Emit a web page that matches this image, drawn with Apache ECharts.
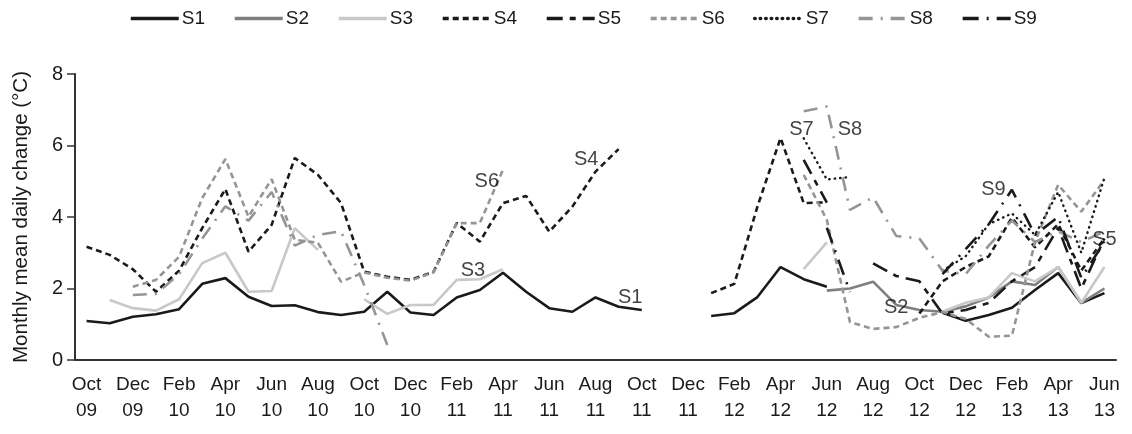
<!DOCTYPE html>
<html><head><meta charset="utf-8">
<script src="https://cdn.jsdelivr.net/npm/echarts@6/dist/echarts.min.js"></script>
<style>html,body{margin:0;padding:0;background:#fff}#c{width:1132px;height:434px}</style>
</head><body><div id="c"></div>
<script>
var months = ['Oct\n09','Nov\n09','Dec\n09','Jan\n10','Feb\n10','Mar\n10','Apr\n10','May\n10','Jun\n10','Jul\n10','Aug\n10','Sep\n10',
'Oct\n10','Nov\n10','Dec\n10','Jan\n11','Feb\n11','Mar\n11','Apr\n11','May\n11','Jun\n11','Jul\n11','Aug\n11','Sep\n11',
'Oct\n11','Nov\n11','Dec\n11','Jan\n12','Feb\n12','Mar\n12','Apr\n12','May\n12','Jun\n12','Jul\n12','Aug\n12','Sep\n12',
'Oct\n12','Nov\n12','Dec\n12','Jan\n13','Feb\n13','Mar\n13','Apr\n13','May\n13','Jun\n13'];
var _ = null;
var S1 = [1.09,1.03,1.21,1.28,1.42,2.13,2.29,1.77,1.51,1.53,1.34,1.26,1.35,1.91,1.33,1.26,1.75,1.96,2.44,1.91,1.45,1.35,1.75,1.49,1.40,_,_,1.23,1.31,1.76,2.60,2.26,2.05,_,_,_,_,1.32,1.10,1.26,1.46,1.96,2.43,1.59,1.87];
var S2 = [_,_,_,_,_,_,_,_,_,_,_,_,_,_,_,_,_,_,_,_,_,_,_,_,_,_,_,_,_,_,_,_,1.94,2.00,2.19,1.54,1.40,1.35,1.50,1.75,2.20,2.10,2.60,1.60,2.00];
var S3 = [_,1.68,1.45,1.38,1.70,2.71,3.00,1.91,1.93,3.69,3.08,_,1.70,1.29,1.54,1.54,2.24,2.26,2.54,_,_,_,_,_,_,_,_,_,_,_,_,2.54,3.29,_,_,_,_,1.35,1.60,1.75,2.43,2.20,2.60,1.60,2.60];
var S4 = [3.17,2.94,2.54,1.91,2.50,3.69,4.78,3.03,3.78,5.65,5.18,4.39,2.47,2.33,2.24,2.47,3.83,3.31,4.39,4.59,3.59,4.29,5.27,5.90,_,_,_,1.87,2.13,4.29,6.21,4.39,4.41,_,_,_,1.30,2.20,2.60,2.90,3.98,3.15,3.80,2.50,3.40];
var S5 = [_,_,_,_,_,_,_,_,_,_,_,_,_,_,_,_,_,_,_,_,_,_,_,_,_,_,_,_,_,_,_,5.60,4.40,_,2.70,2.35,2.20,1.30,1.40,1.60,2.20,2.60,3.70,2.00,3.40];
var S6 = [_,_,2.05,2.24,2.89,4.53,5.62,4.01,5.06,3.36,3.28,2.19,2.45,2.30,2.22,2.45,3.83,3.83,5.32,_,_,_,_,_,_,_,_,_,_,_,_,5.18,3.92,1.06,0.87,0.92,1.18,1.34,1.15,0.65,0.68,3.30,4.90,4.15,5.04];
var S7 = [_,_,_,_,_,_,_,_,_,_,_,_,_,_,_,_,_,_,_,_,_,_,_,_,_,_,_,_,_,_,_,6.20,5.05,5.12,_,_,_,2.50,2.90,3.80,4.10,3.50,4.70,3.00,5.10];
var S8 = [_,_,1.82,1.85,2.40,3.40,4.30,3.90,4.70,3.20,3.50,3.60,2.10,0.42,_,_,_,_,_,_,_,_,_,_,_,_,_,_,_,_,_,6.96,7.09,4.20,4.55,3.47,3.40,2.50,2.40,3.20,3.90,3.30,3.60,3.30,3.60];
var S9 = [_,_,_,_,_,_,_,_,_,_,_,_,_,_,_,_,_,_,_,_,_,_,_,_,_,_,_,_,_,_,_,_,3.70,1.90,_,_,_,2.40,3.10,3.80,4.76,3.50,4.00,2.30,3.30];
var names = ['S1','S2','S3','S4','S5','S6','S7','S8','S9'];
var labelX = [23.5,35.0,16.7,21.6,44.0,17.3,30.9,33.0,39.2];
var labelY = [1.76,1.46,2.49,5.60,3.36,4.98,6.44,6.44,4.76];
var yTicks = [0,2,4,6,8];

var data = [S1,S2,S3,S4,S5,S6,S7,S8,S9];
var styles = [
 {color:'#1a1a1a', width:2.6, type:'solid'},
 {color:'#7f7f7f', width:2.6, type:'solid'},
 {color:'#c8c8c8', width:2.6, type:'solid'},
 {color:'#1a1a1a', width:2.6, type:[6,4]},
 {color:'#1a1a1a', width:2.6, type:[16,7,6,7]},
 {color:'#959595', width:2.6, type:[6,4]},
 {color:'#1a1a1a', width:2.4, type:[0.5,5], cap:'round'},
 {color:'#959595', width:2.6, type:[14,8,2,8]},
 {color:'#1a1a1a', width:2.6, type:[16,8,2,8]}
];
var FONT = "'Liberation Sans',Arial,sans-serif";
var series = data.map(function(d,i){
  return {name:names[i], type:'line', data:d, symbol:'none', symbolSize:0, showSymbol:false, connectNulls:false,
    lineStyle:{color:styles[i].color, width:styles[i].width, type:styles[i].type, cap:styles[i].cap||'butt'},
    itemStyle:{color:styles[i].color}, z: 2+i, animation:false};
});
series.push({type:'scatter', xAxisIndex:1, symbolSize:0, silent:true, animation:false,
  data: names.map(function(n,i){return {name:n, value:[labelX[i], labelY[i]]};}),
  label:{show:true, position:'inside', formatter:'{b}', color:'#111', fontSize:20,
    fontFamily:FONT}, z:20});

var chart = echarts.init(document.getElementById('c'), null, {renderer:'canvas'});
chart.setOption({
  backgroundColor:'#fff',
  animation:false,
  legend:{data:names, top:4, left:124, itemWidth:48, itemHeight:16, itemGap:28,
    itemStyle:{opacity:0}, lineStyle:{width:3.5},
    textStyle:{fontFamily:FONT, fontSize:19, color:'#1a1a1a', padding:[0,0,0,-2]}},
  grid:{left:75, right:16, top:74, bottom:74, containLabel:false},
  xAxis:[{type:'category', data:months, boundaryGap:true,
    axisLine:{lineStyle:{color:'#333', width:2}},
    axisTick:{interval:1, length:6, lineStyle:{color:'#333', width:1.5}},
    axisLabel:{interval:1, color:'#1a1a1a', fontSize:19, fontFamily:FONT, lineHeight:26, margin:12}},
   {type:'value', min:-0.5, max:44.5, show:false}],
  yAxis:{type:'value', min:0, max:8, interval:2, name:'Monthly mean daily change (°C)',
    nameLocation:'middle', nameGap:43, nameTextStyle:{fontFamily:FONT, fontSize:20.5, color:'#1a1a1a'},
    axisLine:{show:true, onZero:false, lineStyle:{color:'#333', width:2}},
    axisTick:{show:true, length:8, lineStyle:{color:'#333', width:1.5}},
    axisLabel:{color:'#1a1a1a', fontSize:20, fontFamily:FONT, margin:12},
    splitLine:{show:false}},
  series:series
});
</script></body></html>
